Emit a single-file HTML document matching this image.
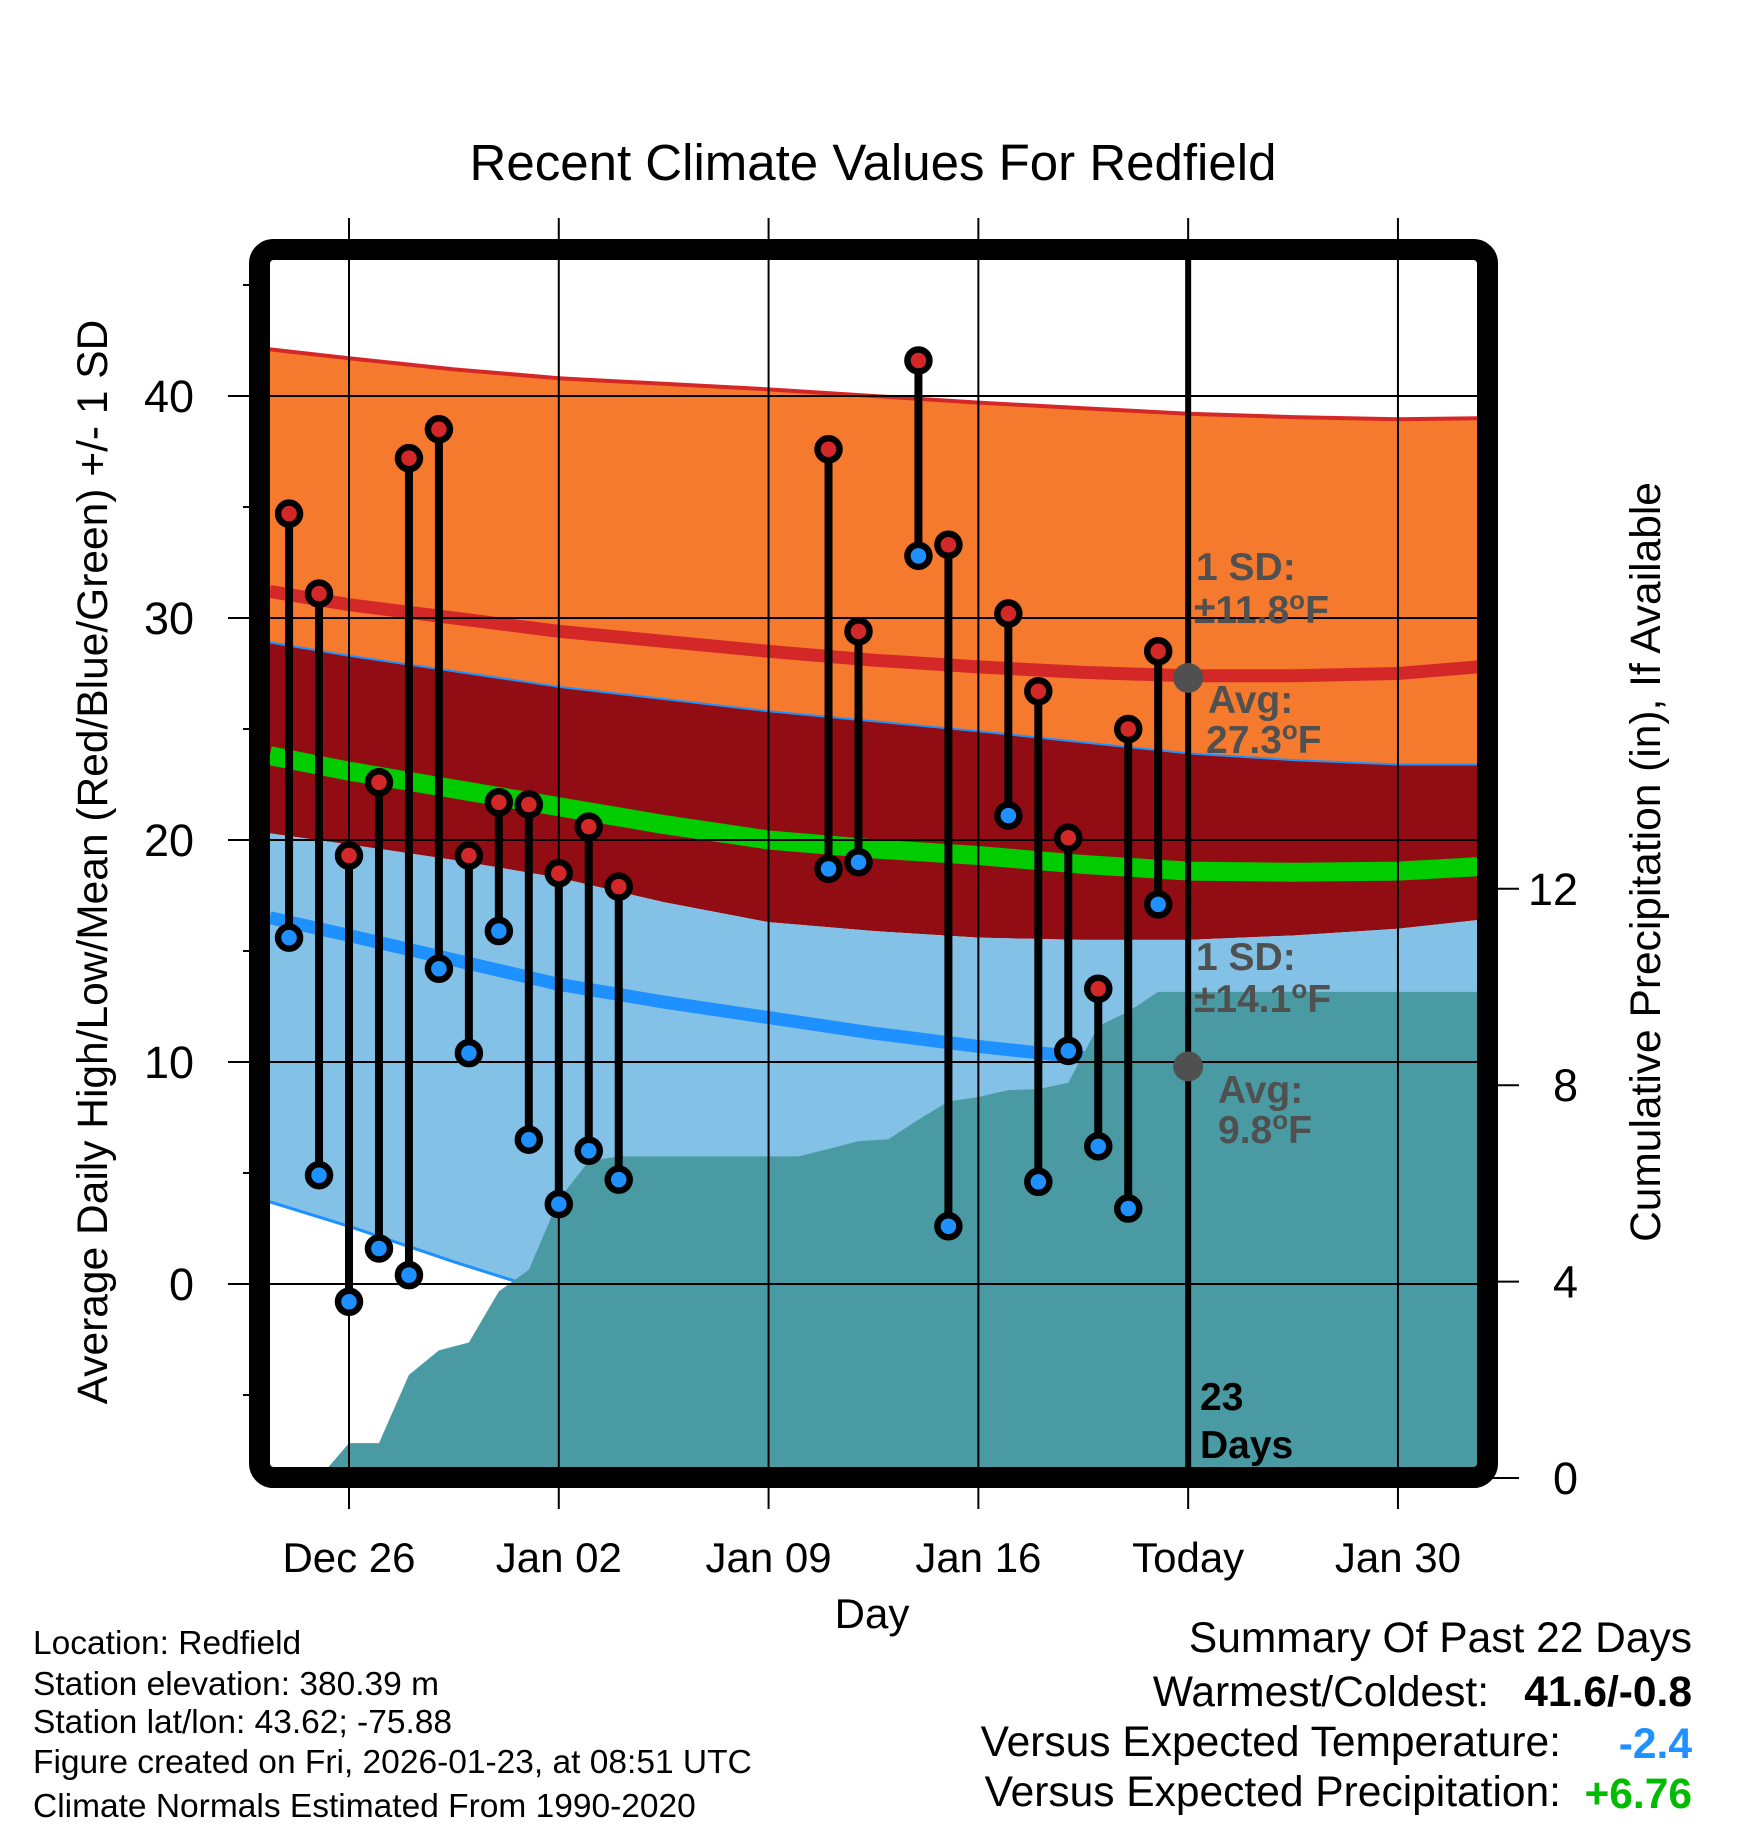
<!DOCTYPE html>
<html><head><meta charset="utf-8"><style>
html,body{margin:0;padding:0;background:#fff}
svg{display:block;font-family:"Liberation Sans",Arial,sans-serif}
</style></head><body>
<svg id="chart" width="1748" height="1828" viewBox="0 0 1748 1828" xmlns="http://www.w3.org/2000/svg">
<defs><clipPath id="plotclip"><rect x="270" y="260" width="1208" height="1208"/></clipPath></defs>
<text x="873" y="180" font-size="51" text-anchor="middle">Recent Climate Values For Redfield</text>
<g id="bands" clip-path="url(#plotclip)"></g>
<g id="grid"></g>
<g id="marks" clip-path="url(#plotclip)"></g>
<g id="annot">
<text x="1196" y="580" font-size="39" font-weight="bold" fill="#505050">1 SD:</text>
<text x="1194" y="623" font-size="39" font-weight="bold" fill="#505050">±11.8<tspan font-size="26" dy="-14">o</tspan><tspan dy="14">F</tspan></text>
<text x="1208" y="713" font-size="39" font-weight="bold" fill="#505050">Avg:</text>
<text x="1206" y="753" font-size="39" font-weight="bold" fill="#505050">27.3<tspan font-size="26" dy="-14">o</tspan><tspan dy="14">F</tspan></text>
<text x="1196" y="970" font-size="39" font-weight="bold" fill="#505050">1 SD:</text>
<text x="1194" y="1012" font-size="39" font-weight="bold" fill="#505050">±14.1<tspan font-size="26" dy="-14">o</tspan><tspan dy="14">F</tspan></text>
<text x="1218" y="1103" font-size="39" font-weight="bold" fill="#505050">Avg:</text>
<text x="1218" y="1143" font-size="39" font-weight="bold" fill="#505050">9.8<tspan font-size="26" dy="-14">o</tspan><tspan dy="14">F</tspan></text>
<text x="1200" y="1410" font-size="39" font-weight="bold">23</text>
<text x="1200" y="1458" font-size="39" font-weight="bold">Days</text>
</g>
<rect x="259.5" y="249.5" width="1228" height="1228" rx="14" fill="none" stroke="#000" stroke-width="21"/>
<g id="axes"></g>
<text x="872" y="1628" font-size="42" text-anchor="middle">Day</text>
<text transform="translate(107,862) rotate(-90)" font-size="42.5" text-anchor="middle">Average Daily High/Low/Mean (Red/Blue/Green) +/- 1 SD</text>
<text transform="translate(1660,862) rotate(-90)" font-size="42.5" text-anchor="middle">Cumulative Precipitation (in), If Available</text>
<g font-size="33.5">
<text x="33" y="1654">Location: Redfield</text>
<text x="33" y="1695">Station elevation: 380.39 m</text>
<text x="33" y="1733">Station lat/lon: 43.62; -75.88</text>
<text x="33" y="1773">Figure created on Fri, 2026-01-23, at 08:51 UTC</text>
<text x="33" y="1817">Climate Normals Estimated From 1990-2020</text>
</g>
<g font-size="42.5">
<text x="1692" y="1652" text-anchor="end">Summary Of Past 22 Days</text>
<text x="1489" y="1706" text-anchor="end">Warmest/Coldest:</text>
<text x="1692" y="1706" text-anchor="end" font-weight="bold">41.6/-0.8</text>
<text x="1561" y="1756" text-anchor="end">Versus Expected Temperature:</text>
<text x="1692" y="1758" text-anchor="end" font-weight="bold" fill="#1e90ff">-2.4</text>
<text x="1561" y="1806" text-anchor="end">Versus Expected Precipitation:</text>
<text x="1692" y="1808" text-anchor="end" font-weight="bold" fill="#00bb00">+6.76</text>
</g>
</svg>
<script>
// days relative to Dec 26 (0)
const normDays=[-2.64,0,3.5,7,10.5,14,17.5,21,24.5,28,31.5,35,37.7];
const highPlusSD=[42.1,41.7,41.2,40.8,40.55,40.3,40.0,39.7,39.45,39.2,39.05,38.95,39.0];
const meanHigh=[31.2,30.6,30.0,29.4,28.95,28.5,28.1,27.8,27.55,27.4,27.4,27.5,27.8];
const highMinusSD=[28.9,28.3,27.6,26.9,26.35,25.8,25.35,24.9,24.4,23.9,23.6,23.4,23.4];
const meanTemp=[23.8,23.1,22.3,21.5,20.7,20.0,19.6,19.3,18.9,18.6,18.55,18.6,18.8];
const lowPlusSD=[20.3,19.8,19.1,18.3,17.2,16.3,15.9,15.6,15.5,15.5,15.7,16.0,16.4];
const meanLow=[16.5,15.7,14.6,13.5,12.7,12.0,11.3,10.7,10.2,9.9,9.9,10.0,10.3];
const lowMinusSD=[3.7,2.6,1.0,-0.5,-1.6,-2.5,-3.1,-3.5,-3.8,-4.0,-3.9,-3.8,-3.5];
const obsDays=[-2,-1,0,1,2,3,4,5,6,7,8,9,16,17,19,20,22,23,24,25,26,27];
const obsHigh=[34.7,31.1,19.3,22.6,37.2,38.5,19.3,21.7,21.6,18.5,20.6,17.9,37.6,29.4,41.6,33.3,30.2,26.7,20.1,13.3,25.0,28.5];
const obsLow=[15.6,4.9,-0.8,1.6,0.4,14.2,10.4,15.9,6.5,3.6,6.0,4.7,18.7,19.0,32.8,2.6,21.1,4.6,10.5,6.2,3.4,17.1];
const precipDays=[-2,-1,0,1,2,3,4,5,6,7,8,9,10,11,12,13,14,15,16,17,18,19,20,21,22,23,24,25,26,27,37.7];
const precipCum=[0,0,0.71,0.71,2.1,2.6,2.76,3.8,4.24,5.67,6.45,6.55,6.55,6.55,6.55,6.55,6.55,6.55,6.7,6.86,6.9,7.3,7.67,7.76,7.9,7.92,8.05,9.2,9.5,9.9,9.9];
const xTickDays=[0,7,14,21,28,35];
const xTickLabels=["Dec 26","Jan 02","Jan 09","Jan 16","Today","Jan 30"];
const yTicks=[0,10,20,30,40];
const yMinor=[-5,5,15,25,35,45];
const y2Ticks=[0,4,8,12];
const todayDay=28, todayHighAvg=27.3, todayLowAvg=9.8;

const X=d=>349+d*29.97;
const Y=t=>1284-t*22.2;
const P=p=>1478-p*49.1;
const NS='http://www.w3.org/2000/svg';
function mk(tag,attrs,parent){const e=document.createElementNS(NS,tag);for(const k in attrs)e.setAttribute(k,attrs[k]);parent.appendChild(e);return e;}
const bands=document.getElementById('bands'),grid=document.getElementById('grid'),marks=document.getElementById('marks'),axes=document.getElementById('axes');
function pts(arr){return normDays.map((d,i)=>X(d)+','+Y(arr[i]));}
function band(top,bot,fill,name){const p=pts(top).concat(pts(bot).reverse()).join(' ');const e=mk('polygon',{points:p,fill:fill},bands);

}
function line(arr,col,w,name){const e=mk('polyline',{points:pts(arr).join(' '),fill:'none',stroke:col,'stroke-width':w,'stroke-linejoin':'round'},bands);

}
band(highPlusSD,highMinusSD,'#f57a2e','high-sd-band');
band(highMinusSD,lowPlusSD,'#920d13','overlap-band');
band(lowPlusSD,lowMinusSD,'#84c1e6','low-sd-band');
line(highPlusSD,'#d42828',4,'high-plus-sd-line');
line(highMinusSD,'#1e90ff',2,'high-minus-sd-line');
line(lowMinusSD,'#1e90ff',3,'low-minus-sd-line');
line(meanHigh,'#d42828',13,'mean-high-line');
line(meanLow,'#1e90ff',13,'mean-low-line');
line(meanTemp,'#00cc00',19,'mean-temp-line');
// precipitation
let pp=precipDays.map((d,i)=>X(d)+','+P(precipCum[i]));
pp.push(X(precipDays[precipDays.length-1])+','+P(0));pp.push(X(precipDays[0])+','+P(0));
const pe=mk('polygon',{points:pp.join(' '),fill:'#4a9aa3'},bands);


// grid
xTickDays.forEach((d,i)=>{const l=mk('line',{x1:X(d),x2:X(d),y1:218,y2:1509,stroke:'#000','stroke-width':2},grid);


const t=mk('text',{x:X(d),y:1572,'font-size':42,'text-anchor':'middle'},axes);t.textContent=xTickLabels[i];

});
yTicks.forEach(v=>{const l=mk('line',{x1:228,x2:1478,y1:Y(v),y2:Y(v),stroke:'#000','stroke-width':2},grid);


const t=mk('text',{x:194,y:Y(v)+16,'font-size':45,'text-anchor':'end'},axes);t.textContent=v;

});
yMinor.forEach(v=>{const l=mk('line',{x1:243,x2:250,y1:Y(v),y2:Y(v),stroke:'#000','stroke-width':2},axes);

});
y2Ticks.forEach(v=>{const l=mk('line',{x1:1490,x2:1519,y1:P(v),y2:P(v),stroke:'#000','stroke-width':2},axes);


const t=mk('text',{x:1578,y:P(v)+16,'font-size':45,'text-anchor':'end'},axes);t.textContent=v;

});
// today line
const tl=mk('line',{x1:X(todayDay),x2:X(todayDay),y1:255,y2:1470,stroke:'#000','stroke-width':6},marks);


[todayHighAvg,todayLowAvg].forEach(v=>{const c=mk('circle',{cx:X(todayDay),cy:Y(v),r:15,fill:'#505050'},marks);

});
// observations
obsDays.forEach((d,i)=>{const x=X(d);
const s=mk('line',{x1:x,x2:x,y1:Y(obsHigh[i]),y2:Y(obsLow[i]),stroke:'#000','stroke-width':8},marks);


const h=mk('circle',{cx:x,cy:Y(obsHigh[i]),r:11,fill:'#d42828',stroke:'#000','stroke-width':6.5},marks);


const lo=mk('circle',{cx:x,cy:Y(obsLow[i]),r:11,fill:'#1e90ff',stroke:'#000','stroke-width':6.5},marks);

});
</script>
</body></html>
